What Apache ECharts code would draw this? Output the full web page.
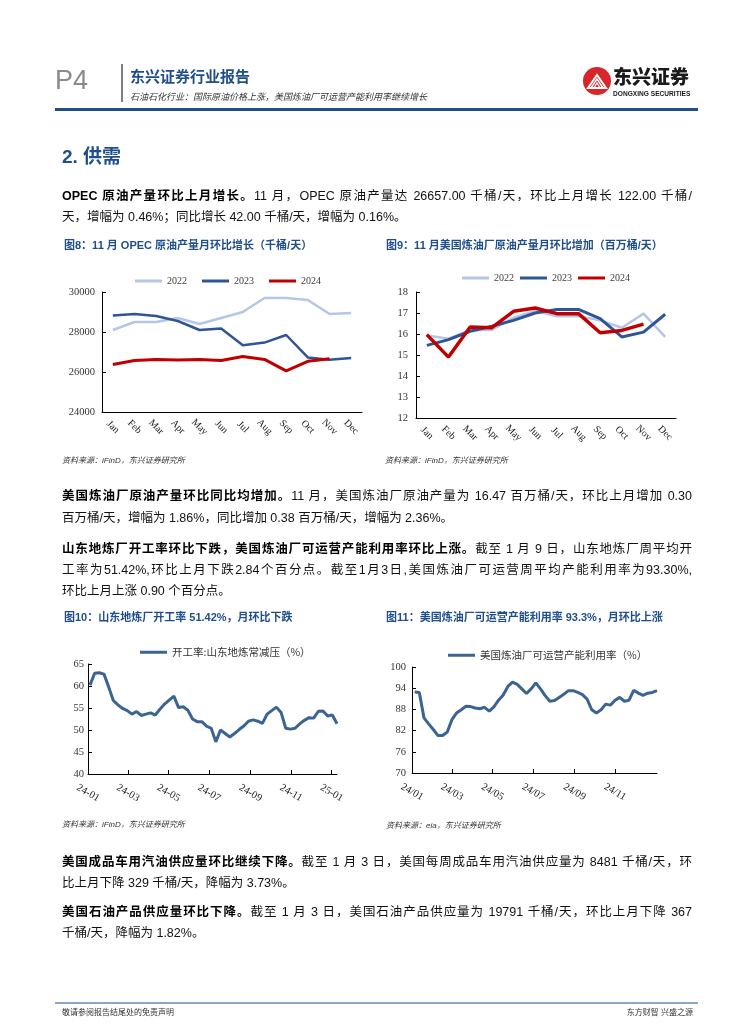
<!DOCTYPE html>
<html><head><meta charset="utf-8">
<script src="https://cdn.jsdelivr.net/npm/echarts@6/dist/echarts.min.js"></script>
<style>
html,body{margin:0;padding:0;background:#fff;}
#page{position:relative;width:755px;height:1024px;overflow:hidden;background:#fff;font-family:"Liberation Sans","Noto Sans CJK SC",sans-serif;}
#chart{position:absolute;left:0;top:0;width:755px;height:1024px;}
.t{position:absolute;white-space:nowrap;}
.line{position:absolute;left:62px;width:630px;font-size:12.5px;line-height:16px;color:#111;white-space:nowrap;text-align:justify;text-align-last:justify;}
.line.last{text-align-last:left;}
.line b{font-weight:700;color:#000;}
.ctitle{position:absolute;font-size:11px;font-weight:700;color:#1f4e8c;line-height:14px;white-space:nowrap;}
.src{position:absolute;font-size:8px;line-height:10px;font-style:italic;color:#333;white-space:nowrap;}
</style></head>
<body>
<div id="page">
<div id="chart"></div>

<!-- header -->
<div class="t" style="left:55px;top:64px;font-size:27px;line-height:32px;color:#8a8a8a;">P4</div>
<div class="t" style="left:121px;top:64px;width:2px;height:38px;background:#7f7f7f;"></div>
<div class="t" style="left:130px;top:68px;font-size:15px;line-height:18px;font-weight:700;color:#1f4e8c;">东兴证券行业报告</div>
<div class="t" style="left:130px;top:92px;font-size:9px;line-height:11px;font-style:italic;color:#333;">石油石化行业：国际原油价格上涨，美国炼油厂可运营产能利用率继续增长</div>
<svg class="t" style="left:582px;top:66px;" width="30" height="30" viewBox="0 0 30 30">
  <circle cx="15" cy="15" r="14" fill="#d9262c"/>
  <path d="M6 22 L15 9 L24 22 Z" fill="none" stroke="#fff" stroke-width="2"/>
  <path d="M9 22 L15 13 L21 22" fill="none" stroke="#fff" stroke-width="1.5"/>
  <path d="M12 22 L15 17 L18 22" fill="none" stroke="#fff" stroke-width="1.2"/>
</svg>
<div class="t" style="left:613px;top:67px;font-size:19px;line-height:22px;font-weight:900;color:#1a1a1a;">东兴证券</div>
<div class="t" style="left:613px;top:90px;font-size:6.6px;line-height:8px;font-weight:700;color:#1a1a1a;">DONGXING SECURITIES</div>
<div class="t" style="left:55px;top:108px;width:643px;height:3px;background:#1f4e8c;"></div>

<div class="t" style="left:62px;top:146px;font-size:19px;line-height:22px;font-weight:700;color:#1f4e8c;">2. 供需</div>

<div class="line" style="top:188px;"><b>OPEC 原油产量环比上月增长。</b>11 月，OPEC 原油产量达 26657.00 千桶/天，环比上月增长 122.00 千桶/</div>
<div class="line last" style="top:209px;">天，增幅为 0.46%；同比增长 42.00 千桶/天，增幅为 0.16%。</div>

<div class="ctitle" style="left:64px;top:238px;">图8：11 月 OPEC 原油产量月环比增长（千桶/天）</div>
<div class="ctitle" style="left:386px;top:238px;">图9：11 月美国炼油厂原油产量月环比增加（百万桶/天）</div>
<div class="src" style="left:62px;top:456px;">资料来源：iFinD，东兴证券研究所</div>
<div class="src" style="left:385px;top:456px;">资料来源：iFinD，东兴证券研究所</div>

<div class="line" style="top:488px;"><b>美国炼油厂原油产量环比同比均增加。</b>11 月，美国炼油厂原油产量为 16.47 百万桶/天，环比上月增加 0.30</div>
<div class="line last" style="top:510px;">百万桶/天，增幅为 1.86%，同比增加 0.38 百万桶/天，增幅为 2.36%。</div>

<div class="line" style="top:541px;"><b>山东地炼厂开工率环比下跌，美国炼油厂可运营产能利用率环比上涨。</b>截至 1 月 9 日，山东地炼厂周平均开</div>
<div class="line" style="top:562px;">工率为51.42%,环比上月下跌2.84个百分点。截至1月3日,美国炼油厂可运营周平均产能利用率为93.30%,</div>
<div class="line last" style="top:583px;">环比上月上涨 0.90 个百分点。</div>

<div class="ctitle" style="left:64px;top:610px;">图10：山东地炼厂开工率 51.42%，月环比下跌</div>
<div class="ctitle" style="left:386px;top:610px;">图11：美国炼油厂可运营产能利用率 93.3%，月环比上涨</div>
<div class="src" style="left:62px;top:820px;">资料来源：iFinD，东兴证券研究所</div>
<div class="src" style="left:386px;top:821px;">资料来源：eia，东兴证券研究所</div>

<div class="line" style="top:854px;"><b>美国成品车用汽油供应量环比继续下降。</b>截至 1 月 3 日，美国每周成品车用汽油供应量为 8481 千桶/天，环</div>
<div class="line last" style="top:875px;">比上月下降 329 千桶/天，降幅为 3.73%。</div>

<div class="line" style="top:904px;"><b>美国石油产品供应量环比下降。</b>截至 1 月 3 日，美国石油产品供应量为 19791 千桶/天，环比上月下降 367</div>
<div class="line last" style="top:925px;">千桶/天，降幅为 1.82%。</div>

<div class="t" style="left:55px;top:1002px;width:643px;height:2px;background:#8ea6c4;"></div>
<div class="t" style="left:62px;top:1008px;font-size:8px;line-height:10px;color:#333;">敬请参阅报告结尾处的免责声明</div>
<div class="t" style="right:62px;top:1008px;font-size:8px;line-height:10px;color:#333;">东方财智 兴盛之源</div>
</div>

<script>
// ---------- data ----------
const months = ['Jan','Feb','Mar','Apr','May','Jun','Jul','Aug','Sep','Oct','Nov','Dec'];
const yearNames = ['2022','2023','2024'];

// Fig 8: OPEC crude output (kb/d)
const opec2022 = [28100,28500,28500,28700,28400,28700,29000,29700,29700,29600,28900,28950];
const opec2023 = [28820,28900,28800,28550,28100,28180,27340,27470,27850,26730,26615,26700];
const opec2024 = [26370,26570,26630,26600,26630,26570,26770,26630,26060,26535,26657];

// Fig 9: US refinery crude runs (mb/d)
const us2022 = [15.93,15.78,16.18,16.2,16.78,17.1,16.84,16.84,16.65,16.3,16.97,15.86];
const us2023 = [15.46,15.73,16.13,16.37,16.65,17.0,17.17,17.17,16.73,15.86,16.09,16.94];
const us2024 = [15.97,14.9,16.33,16.3,17.08,17.24,16.97,16.97,16.06,16.17,16.47];

// Fig 10: Shandong teapot refinery run rate (%), weekly from 2024-01-04 to 2025-01-09
const sdStart = '2024-01-04';
const sdRate = [60.2,62.9,63.0,62.7,59.8,56.7,55.7,54.9,54.4,53.6,
                54.2,53.3,53.6,53.9,53.4,54.7,55.9,56.8,57.7,55.1,
                55.3,54.5,52.5,51.9,51.9,50.9,50.4,47.3,50.0,49.2,
                48.4,49.2,50.1,50.9,52.0,52.3,52.0,51.5,53.6,54.4,
                55.2,54.0,50.4,50.2,50.4,51.4,52.2,52.8,52.7,54.26,
                54.3,53.2,53.4,51.42];
const sdTicks = ['2024-01-01','2024-03-01','2024-05-01','2024-07-01','2024-09-01','2024-11-01','2025-01-01'];
const sdTickLabels = ['24-01','24-03','24-05','24-07','24-09','24-11','25-01'];

// Fig 11: US refinery operable utilization (%), weekly from 2024-01-05 to 2025-01-03
const usStart = '2024-01-05';
const usUtil = [92.9,92.8,85.6,83.9,82.3,80.6,80.6,81.6,85.1,87.0,
                87.9,88.9,88.8,88.4,88.2,88.6,87.5,88.7,90.6,92.1,
                94.5,95.7,95.1,93.8,92.5,93.8,95.5,93.8,91.9,90.3,
                90.5,91.4,92.3,93.3,93.3,92.8,92.2,90.9,87.9,87.0,
                87.9,89.5,89.2,90.6,91.4,90.3,90.6,93.4,92.6,92.0,
                92.6,92.8,93.3];
const usTicks = ['2024-01-01','2024-03-01','2024-05-01','2024-07-01','2024-09-01','2024-11-01'];
const usTickLabels = ['24/01','24/03','24/05','24/07','24/09','24/11'];
const usYTicks = [70,76,82,88,94,100];

// ---------- helpers (x = days since 2024-01-01) ----------
const DAY = 86400000;
const T0 = Date.UTC(2024,0,1);
function toDay(s){const p=s.split('-').map(Number);return Math.round((Date.UTC(p[0],p[1]-1,p[2])-T0)/DAY);}
function weekly(start, vals){const d0=toDay(start);return vals.map((v,i)=>[d0+i*7, v]);}
function labelMap(ticks, labels){const m={};ticks.forEach((t,i)=>{m[toDay(t)]=labels[i];});return v=>m[Math.round(v)]!==undefined?m[Math.round(v)]:'';}

const serif = 'Liberation Serif';
const axisCol = '#000';
const labCol = '#333';
const c22='#b4c7e7', c23='#2f5597', c24='#c00000', cLine='#3b6494';

function catX(gi){return {type:'category',gridIndex:gi,data:months,boundaryGap:true,
  axisLine:{lineStyle:{color:axisCol,width:1}},
  axisTick:{inside:true,length:4,interval:0,lineStyle:{color:axisCol}},
  axisLabel:{rotate:-45,interval:0,fontFamily:serif,fontSize:10,color:'#222',margin:15,align:'center',verticalAlign:'middle'}};}
function valY(gi,min,max,interval,margin){return {type:'value',gridIndex:gi,min:min,max:max,interval:interval,
  splitLine:{show:false},axisLine:{show:true,lineStyle:{color:axisCol,width:1}},
  axisTick:{show:true,inside:true,length:4,lineStyle:{color:axisCol}},
  axisLabel:{fontFamily:serif,fontSize:10.5,color:labCol,margin:margin,formatter:v=>String(v)}};}
function dayX(gi,maxDate,ticks,labels){return {type:'value',gridIndex:gi,min:0,max:toDay(maxDate),
  splitLine:{show:false},axisLine:{show:true,lineStyle:{color:axisCol,width:1}},
  axisTick:{show:true,inside:true,length:4,customValues:ticks.map(toDay),lineStyle:{color:axisCol}},
  axisLabel:{customValues:ticks.map(toDay),formatter:labelMap(ticks,labels),rotate:-30,fontFamily:serif,fontSize:10.5,color:'#222',margin:19,align:'center',verticalAlign:'middle'}};}

const chart = echarts.init(document.getElementById('chart'), null, {renderer:'canvas'});
const legendText = {fontFamily:serif,fontSize:10,color:'#404040'};
const option = {
  animation:false,
  grid:[
    {left:102,top:292,width:260,height:120},
    {left:416,top:292,width:260,height:126},
    {left:88,top:664,width:249,height:110},
    {left:412,top:667,width:245,height:106}
  ],
  legend:[
    {data:yearNames,left:130,top:271,icon:'rect',itemWidth:27,itemHeight:3,itemGap:15,textStyle:legendText,selectedMode:false},
    {data:yearNames,left:457,top:268,icon:'rect',itemWidth:27,itemHeight:3,itemGap:6,textStyle:legendText,selectedMode:false},
    {data:['开工率:山东地炼常减压（%）'],left:135,top:642,icon:'rect',itemWidth:27,itemHeight:3,textStyle:{fontFamily:'Noto Sans CJK SC',fontSize:10.5,color:'#333'},selectedMode:false},
    {data:['美国炼油厂可运营产能利用率（%）'],left:443,top:645,icon:'rect',itemWidth:27,itemHeight:3,textStyle:{fontFamily:'Noto Sans CJK SC',fontSize:10.5,color:'#333'},selectedMode:false}
  ],
  xAxis:[
    catX(0), catX(1),
    dayX(2,'2025-01-09',sdTicks,sdTickLabels),
    dayX(3,'2025-01-03',usTicks,usTickLabels)
  ],
  yAxis:[
    valY(0,24000,30000,2000,7),
    valY(1,12,18,1,8),
    valY(2,40,65,5,4),
    {type:'value',gridIndex:3,min:70,max:100,splitLine:{show:false},
      axisLine:{show:true,lineStyle:{color:axisCol,width:1}},
      axisTick:{show:true,inside:true,length:4,customValues:usYTicks,lineStyle:{color:axisCol}},
      axisLabel:{customValues:usYTicks,fontFamily:serif,fontSize:10.5,color:labCol,margin:6}}
  ],
  series:[
    {type:'line',name:'2022',xAxisIndex:0,yAxisIndex:0,data:opec2022,symbol:'none',lineStyle:{width:2.5,color:c22},itemStyle:{color:c22}},
    {type:'line',name:'2023',xAxisIndex:0,yAxisIndex:0,data:opec2023,symbol:'none',lineStyle:{width:2.5,color:c23},itemStyle:{color:c23}},
    {type:'line',name:'2024',xAxisIndex:0,yAxisIndex:0,data:opec2024,symbol:'none',lineStyle:{width:3,color:c24},itemStyle:{color:c24}},
    {type:'line',name:'2022',xAxisIndex:1,yAxisIndex:1,data:us2022,symbol:'none',lineStyle:{width:2.5,color:c22},itemStyle:{color:c22}},
    {type:'line',name:'2023',xAxisIndex:1,yAxisIndex:1,data:us2023,symbol:'none',lineStyle:{width:3,color:c23},itemStyle:{color:c23}},
    {type:'line',name:'2024',xAxisIndex:1,yAxisIndex:1,data:us2024,symbol:'none',lineStyle:{width:3.5,color:c24},itemStyle:{color:c24}},
    {type:'line',name:'开工率:山东地炼常减压（%）',xAxisIndex:2,yAxisIndex:2,data:weekly(sdStart,sdRate),symbol:'none',lineStyle:{width:3,color:cLine},itemStyle:{color:cLine}},
    {type:'line',name:'美国炼油厂可运营产能利用率（%）',xAxisIndex:3,yAxisIndex:3,data:weekly(usStart,usUtil),symbol:'none',lineStyle:{width:3,color:cLine},itemStyle:{color:cLine}}
  ]
};
chart.setOption(option);
</script>
</body></html>
